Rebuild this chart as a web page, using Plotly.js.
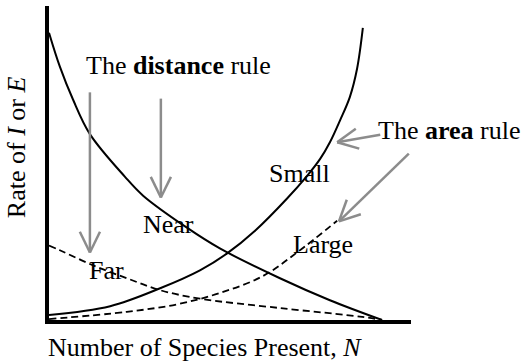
<!DOCTYPE html>
<html><head><meta charset="utf-8">
<script src="https://cdn.plot.ly/plotly-3.0.1.min.js"></script>
<style>html,body{margin:0;padding:0;background:#fff}#chart{width:524px;height:362px}</style>
</head><body><div id="chart"></div>
<script>
// Immigration curves (decreasing)
const nearX = [0, 3.0, 6.6, 11.3, 21.0, 26.0, 38.1, 47.2, 63.8, 77.6, 92.0];
const nearY = [91.5, 80.7, 70.3, 59.2, 45.6, 39.6, 29.4, 22.8, 13.3, 6.3, 0];
const farX = [0, 3.0, 12.2, 21.5, 30.7, 41.7, 63.8, 86.5, 92.0];
const farY = [23.7, 22.2, 17.4, 13.3, 9.5, 6.8, 3.8, 1.0, 0];
// Extinction curves (increasing)
const smallX = [0, 16.9, 30.7, 41.7, 49.2, 57.0, 65.7, 71.3, 74.9, 77.6, 80.4, 83.1, 85.1, 86.7];
const smallY = [1.6, 4.4, 10.1, 15.8, 21.2, 28.5, 38.6, 45.9, 51.3, 56.6, 63.6, 71.0, 80.0, 93.0];
const largeX = [0, 21.5, 35.4, 47.2, 59.1, 68.5, 79.6];
const largeY = [0.3, 2.6, 5.0, 8.6, 14.0, 21.5, 31.6];

const labelTexts = ['The <b>distance</b> rule', 'The <b>area</b> rule', 'Small', 'Large', 'Near', 'Far'];
const xTitle = 'Number of Species Present, <i>N</i>';
const yTitle = 'Rate of <i>I</i> or <i>E</i>';

const M = {l: 49, r: 113, t: 6, b: 42};
const W = 524, H = 362;
const XR = [0, 100], YR = [0, 100];
const sx = (W - M.l - M.r) / (XR[1] - XR[0]);
const sy = (H - M.t - M.b) / (YR[1] - YR[0]);

const font = {family: '"Liberation Serif", "Times New Roman", serif', size: 26, color: '#000'};
const gray = '#8c8c8c';

const traces = [
  {x: nearX, y: nearY, mode: 'lines', line: {color: '#000', width: 2, shape: 'spline'}, hoverinfo: 'skip'},
  {x: farX, y: farY, mode: 'lines', line: {color: '#000', width: 1.8, dash: '7px,4px', shape: 'spline'}, hoverinfo: 'skip'},
  {x: smallX, y: smallY, mode: 'lines', line: {color: '#000', width: 2, shape: 'spline'}, hoverinfo: 'skip'},
  {x: largeX, y: largeY, mode: 'lines', line: {color: '#000', width: 1.8, dash: '7px,4px', shape: 'spline'}, hoverinfo: 'skip'}
];

// Arrows: tail -> tip, in data units
const arrows = [
  {from: [11.3, 72.5], to: [11.3, 21.5]},
  {from: [30.9, 70.5], to: [30.9, 39.0]},
  {from: [91.5, 59.0], to: [79.6, 56.6]},
  {from: [99.4, 53.0], to: [80.1, 31.4]}
];
const shapes = [];
const headLen = 23, headAng = 26 * Math.PI / 180;
arrows.forEach(a => {
  const lineStyle = {color: gray, width: 2.5};
  shapes.push({type: 'line', xref: 'x', yref: 'y', x0: a.from[0], y0: a.from[1], x1: a.to[0], y1: a.to[1], line: lineStyle, layer: 'above'});
  const dxp = (a.to[0] - a.from[0]) * sx, dyp = (a.to[1] - a.from[1]) * sy;
  const len = Math.hypot(dxp, dyp);
  const ux = dxp / len, uy = dyp / len;
  [headAng, -headAng].forEach(ang => {
    const rx = ux * Math.cos(ang) - uy * Math.sin(ang);
    const ry = ux * Math.sin(ang) + uy * Math.cos(ang);
    shapes.push({type: 'line', xref: 'x', yref: 'y', x0: a.to[0], y0: a.to[1],
      x1: a.to[0] - rx * headLen / sx, y1: a.to[1] - ry * headLen / sy, line: lineStyle, layer: 'above'});
  });
});

const ann = (text, x, y, extra) => Object.assign({text, x, y, xref: 'x', yref: 'y', showarrow: false, font, xanchor: 'center', yanchor: 'middle'}, extra || {});
const annotations = [
  ann(labelTexts[0], 35.9, 81.0),
  ann(labelTexts[1], 1.3066, 0.605, {xref: 'paper', yref: 'paper', xanchor: 'right'}),
  ann(labelTexts[2], 69.1, 46.6),
  ann(labelTexts[3], 75.7, 24.2),
  ann(labelTexts[4], 32.9, 30.5),
  ann(labelTexts[5], 16.0, 15.9),
  ann(xTitle, 0.431, -0.089, {xref: 'paper', yref: 'paper'}),
  ann(yTitle, -0.088, 0.551, {xref: 'paper', yref: 'paper', textangle: -90})
];

const axisBase = {showline: true, linecolor: '#000', linewidth: 4, showgrid: false, zeroline: false,
  ticks: '', showticklabels: false, fixedrange: true};

const layout = {
  width: W, height: H,
  margin: M,
  paper_bgcolor: '#fff', plot_bgcolor: '#fff',
  showlegend: false,
  xaxis: Object.assign({}, axisBase, {range: XR}),
  yaxis: Object.assign({}, axisBase, {range: YR}),
  shapes, annotations, font
};

Plotly.newPlot('chart', traces, layout, {displayModeBar: false, staticPlot: true});
</script></body></html>
